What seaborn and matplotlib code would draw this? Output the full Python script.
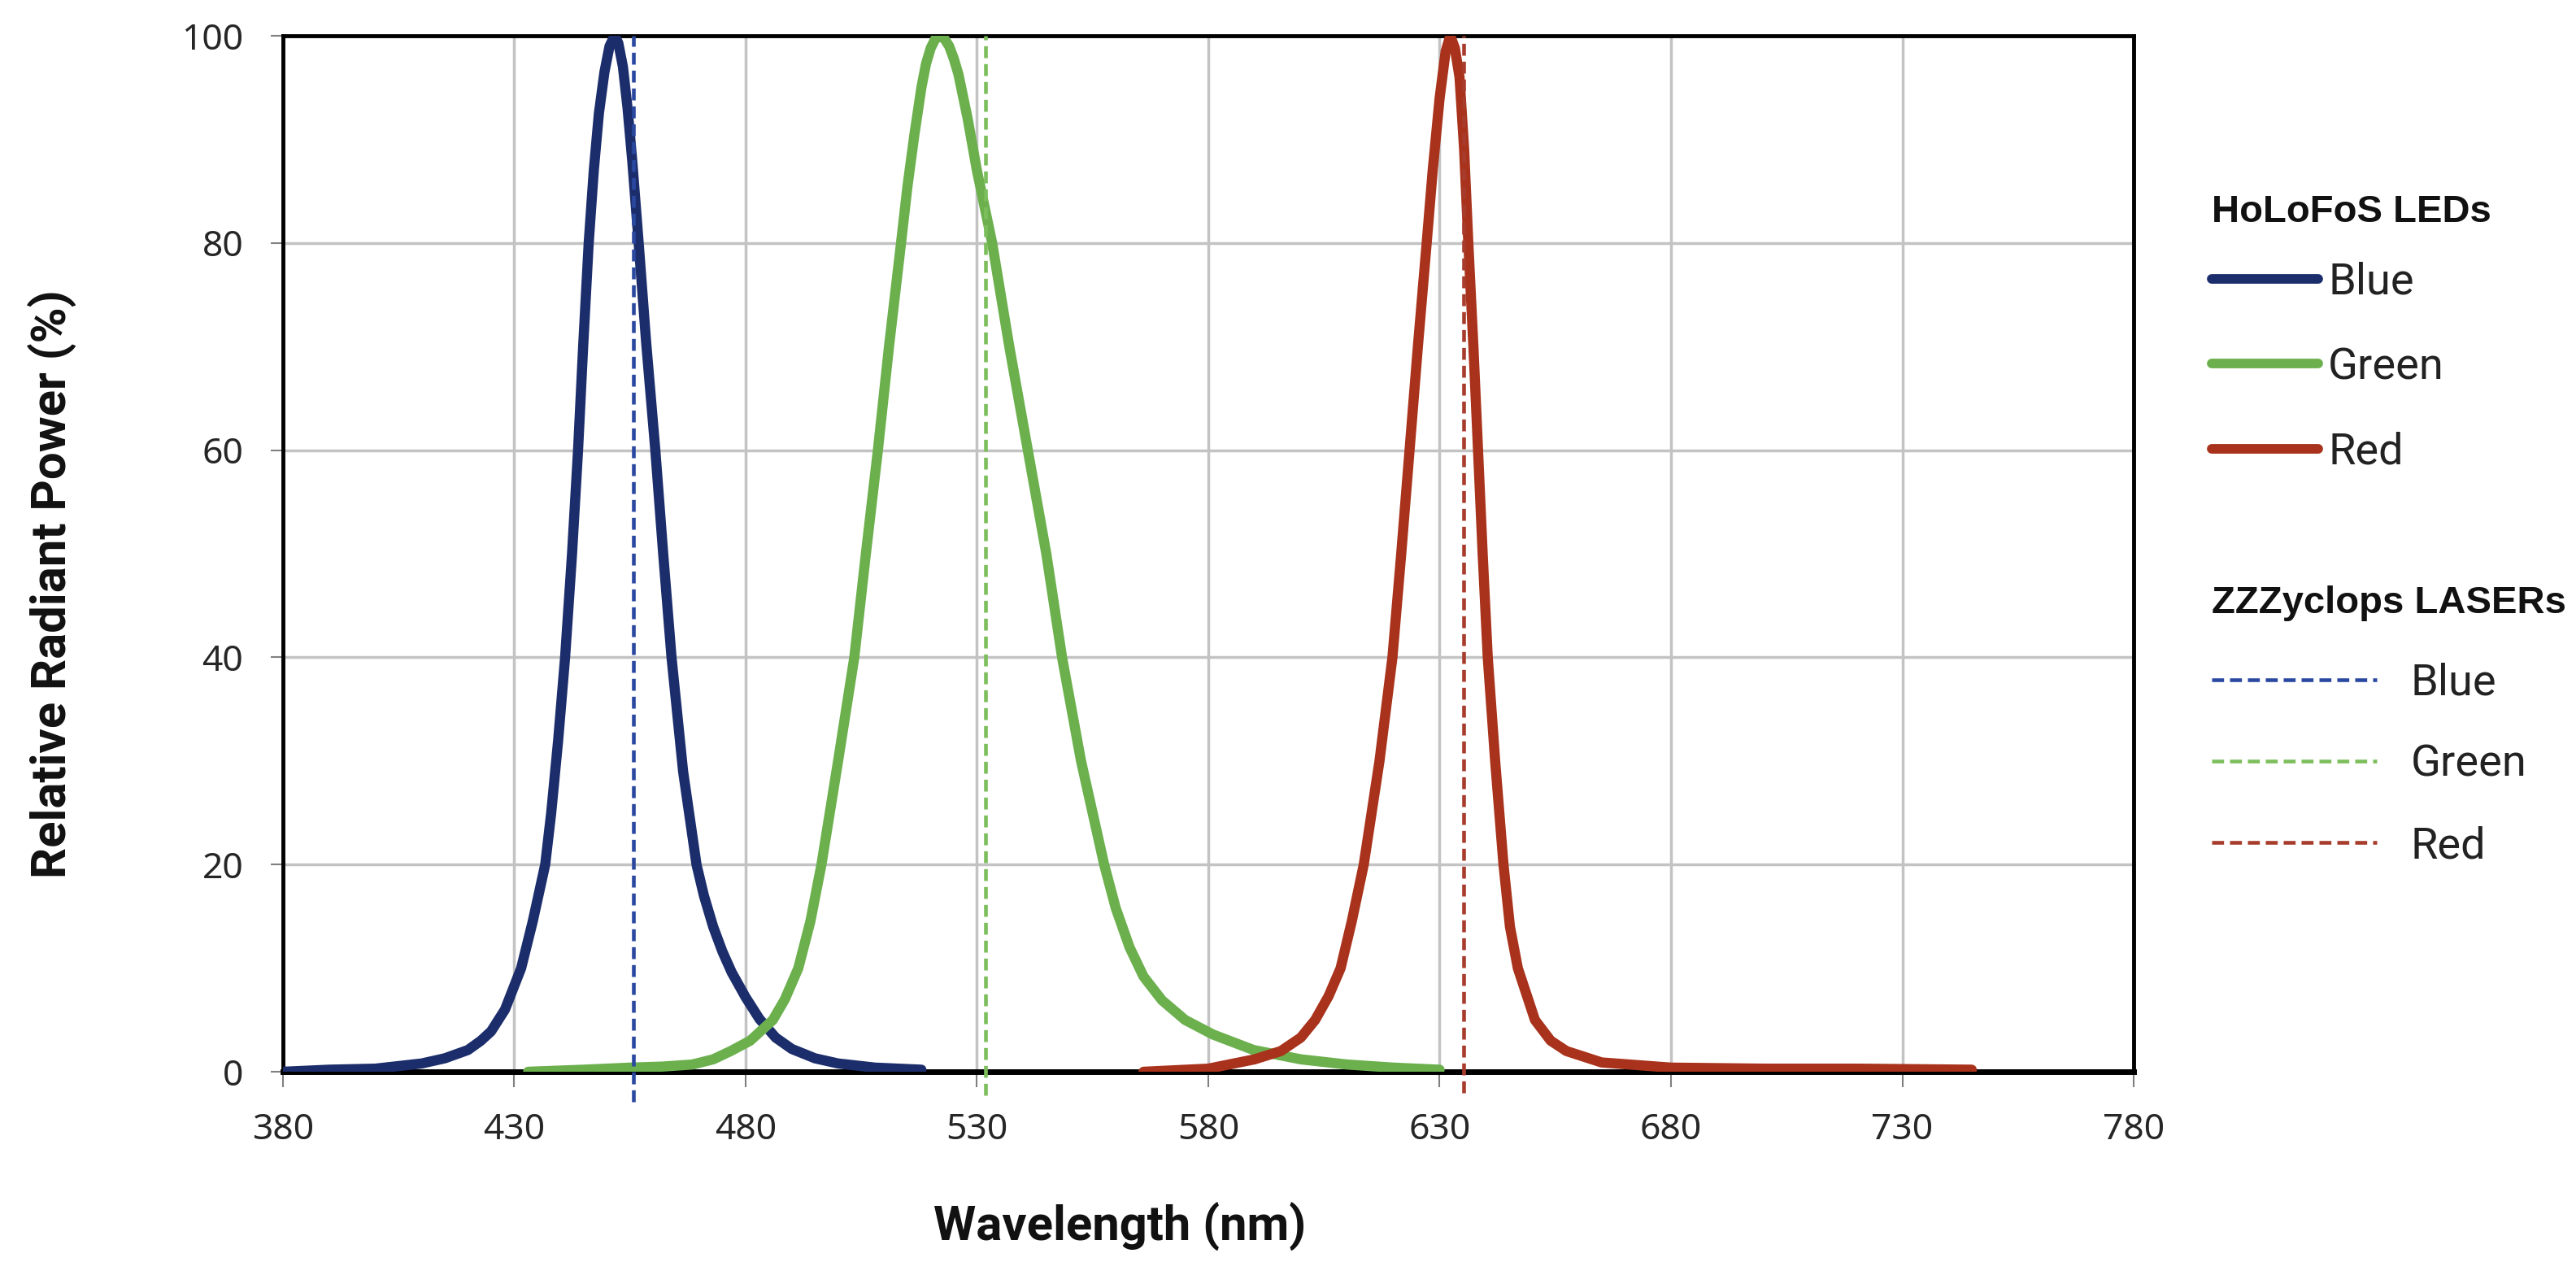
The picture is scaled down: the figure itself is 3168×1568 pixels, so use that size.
import numpy as np
import pandas as pd
import matplotlib
matplotlib.use('Agg')
import matplotlib.pyplot as plt
from matplotlib.lines import Line2D
import seaborn as sns

# LED spectra (nm, relative power %)
blue_nm = [380, 390, 400, 410, 415, 420, 422.8, 425, 428, 431.5, 434, 436.7, 438, 439.5, 441,
           442.5, 443.8, 444.9, 446.1, 447.2, 448.3, 449.5, 450.6, 451.7, 452.5, 453.5, 454.5,
           455.5, 456.9, 458.5, 460.5, 462.2, 464, 466.5, 469.4, 471, 473, 475, 477, 480, 483,
           486.5, 490, 495, 500, 508, 518]
blue_pw = [0.0, 0.2, 0.3, 0.8, 1.3, 2.1, 3.0, 3.9, 6.0, 10.0, 14.5, 20, 25, 32, 40,
           50, 60, 70, 80, 87, 92.5, 96.5, 99, 100, 99.3, 97, 93,
           88, 80, 70.5, 60, 50, 40, 29, 20, 17, 14, 11.6, 9.6, 7.2, 5.1,
           3.3, 2.2, 1.3, 0.8, 0.4, 0.2]

green_nm = [433, 445, 455, 462, 468.5, 473, 476.8, 481, 485.9, 488.5, 491.4, 494, 496.4, 500,
            503.5, 506, 508.6, 511, 513.6, 515, 516.5, 518, 519, 520, 521, 522, 523, 524, 525,
            526, 528, 530, 533.3, 537, 541, 545, 548.4, 552.5, 557.5, 560, 563, 566, 570,
            575, 581, 589.8, 600, 610, 620, 630]
green_pw = [0.0, 0.2, 0.4, 0.5, 0.7, 1.2, 2.0, 3.0, 5.0, 7.0, 10, 14.5, 20, 30,
            40, 50, 60, 70, 80, 85.5, 90.5, 95, 97.3, 98.8, 99.7, 100, 99.7, 99, 97.8,
            96.3, 92, 87, 80, 70, 60, 50, 40, 30, 20, 15.8, 12, 9.2, 6.9,
            5.0, 3.6, 2.1, 1.2, 0.7, 0.4, 0.2]

red_nm = [566, 580, 590, 595.7, 600, 603.1, 606, 608.6, 611, 613.6, 617, 619.8, 621.7, 623.5,
          625.3, 627.2, 628.5, 630, 631.3, 632.3, 633.3, 634.3, 635.3, 636.2, 637.3, 638.3,
          639.3, 640.4, 642, 643.8, 645.2, 646.9, 650.6, 654, 657.4, 665, 680, 700, 720, 745]
red_pw = [0.0, 0.3, 1.2, 2.0, 3.3, 5.0, 7.3, 10, 14.5, 20, 30, 40, 50, 60,
          70, 80, 87, 94, 98.5, 100, 98.8, 96, 89, 80, 70, 60,
          50, 40, 30, 20, 14, 10, 5.0, 3.0, 2.0, 0.9, 0.4, 0.3, 0.3, 0.2]

# laser lines (nm) and how far each dashed line pokes below the axis (%)
laser_nm = [455.7, 531.8, 635.2]
laser_low = [-2.9, -2.3, -2.0]

names = ['Blue', 'Green', 'Red']
led_colors = ['#1C2D6B', '#6CB04E', '#A8321B']
laser_colors = ['#2A48A0', '#7DBE5C', '#A83C2C']

x_ticks = [380, 430, 480, 530, 580, 630, 680, 730, 780]
y_ticks = [0, 20, 40, 60, 80, 100]

df = pd.concat([
    pd.DataFrame({'nm': blue_nm, 'power': blue_pw, 'LED': 'Blue'}),
    pd.DataFrame({'nm': green_nm, 'power': green_pw, 'LED': 'Green'}),
    pd.DataFrame({'nm': red_nm, 'power': red_pw, 'LED': 'Red'}),
], ignore_index=True)

sns.set_theme(style='white')
plt.rcParams['font.family'] = ['Noto Sans', 'DejaVu Sans']

W, H = 3168, 1568
fig = plt.figure(figsize=(W / 100, H / 100), dpi=100)
ax = fig.add_axes([0.1098, 0.1594, 0.7185, 0.8125])

ax.grid(True, color='#C3C3C3', linewidth=2.5, zorder=0)
ax.set_axisbelow(True)

sns.lineplot(data=df, x='nm', y='power', hue='LED', palette=dict(zip(names, led_colors)),
             estimator=None, sort=False, linewidth=9, legend=False, ax=ax, zorder=3)

for nm, low, c in zip(laser_nm, laser_low, laser_colors):
    ax.vlines(nm, low, 100, colors=c, linewidth=3.3, linestyles=(0, (3.2, 1.6)),
              clip_on=False, zorder=4)

ax.set_xlim(380, 780)
ax.set_ylim(0, 100)
ax.set_xticks(x_ticks)
ax.set_yticks(y_ticks)

for side in ['left', 'right', 'top']:
    ax.spines[side].set_color('black')
    ax.spines[side].set_linewidth(3.5)
ax.spines['bottom'].set_color('black')
ax.spines['bottom'].set_linewidth(5)
ax.spines['bottom'].set_zorder(2)

ax.tick_params(axis='x', which='both', bottom=True, direction='out', length=14, width=1.5,
               color='#808080', pad=22, labelsize=32, labelcolor='#262626')
ax.tick_params(axis='y', which='both', left=True, direction='out', length=11, width=1.5,
               color='#808080', pad=24, labelsize=32, labelcolor='#262626')

ax.set_xlabel('Wavelength (nm)', fontsize=43, fontweight='bold', family='Roboto', color='#111111')
ax.set_ylabel('Relative Radiant Power (%)', fontsize=43, fontweight='bold', family='Roboto',
              color='#111111')
ax.xaxis.set_label_coords(0.452, -0.150)
ax.xaxis.label.set_va('center')
ax.yaxis.set_label_coords(-0.1243, 0.471)
ax.yaxis.label.set_va('center')

# legends: titles as separate text, rows placed so the first row sits at a target height
led_handles = [Line2D([], [], color=c, linewidth=8.5, solid_capstyle='round') for c in led_colors]
laser_handles = [Line2D([], [], color=c, linewidth=3.3, linestyle=(0, (3.2, 1.6)))
                 for c in laser_colors]

leg_font = {'family': 'Roboto', 'size': 39}
title_font = dict(family='Liberation Sans', fontweight='bold', fontsize=34, color='#111111')
leg_x = 2720 / W

fig.text(leg_x, 1 - 261 / H, 'HoLoFoS LEDs', va='center', ha='left', **title_font)
fig.text(leg_x, 1 - 742 / H, 'ZZZyclops LASERs', va='center', ha='left', **title_font)

leg1 = fig.legend(led_handles, names, loc='upper left', bbox_to_anchor=(leg_x, 0.8),
                  frameon=False, prop=leg_font, handlelength=2.42, handletextpad=0.22,
                  labelspacing=0.99, borderpad=0, borderaxespad=0)
leg2 = fig.legend(laser_handles, names, loc='upper left', bbox_to_anchor=(leg_x, 0.5),
                  frameon=False, prop=leg_font, handlelength=3.75, handletextpad=0.77,
                  labelspacing=0.91, borderpad=0, borderaxespad=0)

fig.canvas.draw()
renderer = fig.canvas.get_renderer()
for leg, anchor_y, first_row in ((leg1, 0.8, 347), (leg2, 0.5, 840)):
    for t in leg.get_texts():
        t.set_color('#222222')
    bb = leg.get_texts()[0].get_window_extent(renderer)
    cur = H - (bb.y0 + bb.y1) / 2
    shift = (cur - first_row) / H
    leg.set_bbox_to_anchor((leg_x, anchor_y + shift), transform=fig.transFigure)

fig.savefig('out.png', dpi=100)
